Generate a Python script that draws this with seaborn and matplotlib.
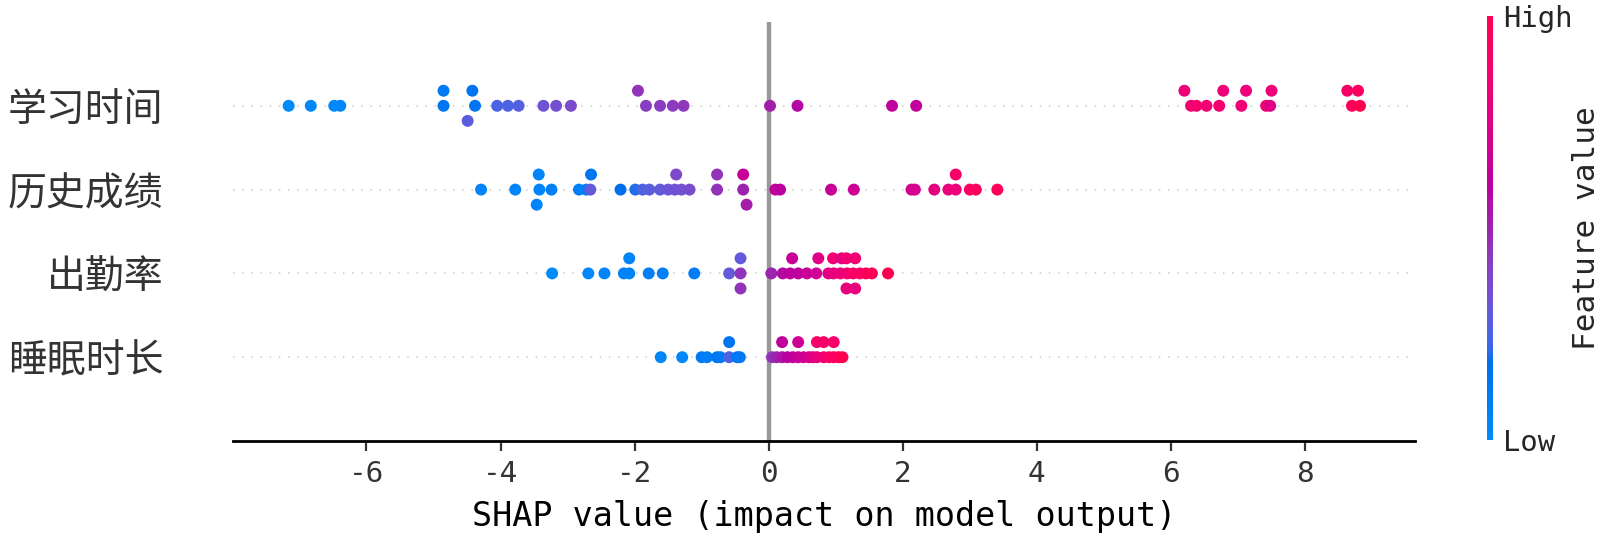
import numpy as np
import pandas as pd
import matplotlib
matplotlib.use("Agg")
import matplotlib.pyplot as plt
from matplotlib import font_manager
from matplotlib.colors import LinearSegmentedColormap
from matplotlib.cm import ScalarMappable
from matplotlib.colors import Normalize
import seaborn as sns

# ---------------- data ----------------
features = ["学习时间", "历史成绩", "出勤率", "睡眠时长"]

study_shap = [-7.16, -6.83, -6.48, -6.39, -4.85, -4.85, -4.38, -4.42, -4.49, -4.05,
              -3.89, -3.73, -3.36, -3.17, -2.95, -1.83, -1.95, -1.62, -1.43, -1.27,
              0.02, 0.43, 1.84, 2.20, 6.30, 6.20, 6.38, 6.53, 6.72, 6.78,
              7.05, 7.12, 7.42, 7.48, 7.50, 8.70, 8.63, 8.82, 8.79]
study_feat = [0.00, 0.02, 0.03, 0.03, 0.15, 0.12, 0.15, 0.15, 0.28, 0.25,
              0.25, 0.27, 0.33, 0.35, 0.37, 0.42, 0.45, 0.42, 0.43, 0.44,
              0.52, 0.58, 0.62, 0.62, 0.85, 0.82, 0.88, 0.85, 0.85, 0.82,
              0.85, 0.82, 0.85, 0.75, 0.82, 0.95, 0.90, 1.00, 0.92]

history_shap = [-4.29, -3.78, -3.42, -3.43, -3.46, -3.24, -2.83, -2.72, -2.66, -2.65,
                -2.21, -1.99, -1.88, -1.78, -1.62, -1.50, -1.40, -1.38, -1.30, -1.18,
                -0.77, -0.77, -0.38, -0.38, -0.33, 0.10, 0.17, 0.93, 1.27, 2.13,
                2.18, 2.47, 2.68, 2.79, 2.79, 3.00, 3.09, 3.41]
history_feat = [0.05, 0.05, 0.05, 0.05, 0.05, 0.08, 0.08, 0.10, 0.30, 0.15,
                0.18, 0.20, 0.25, 0.28, 0.30, 0.32, 0.33, 0.38, 0.34, 0.36,
                0.45, 0.45, 0.50, 0.65, 0.52, 0.62, 0.60, 0.65, 0.67, 0.70,
                0.70, 0.78, 0.80, 0.82, 0.90, 0.92, 0.93, 0.95]

attend_shap = [-3.23, -2.69, -2.45, -2.16, -2.08, -2.08, -1.79, -1.58, -1.11, -0.59,
               -0.42, -0.42, -0.42, 0.04, 0.21, 0.32, 0.35, 0.44, 0.57, 0.71,
               0.74, 0.89, 0.97, 0.96, 1.07, 1.09, 1.17, 1.16, 1.16, 1.26,
               1.29, 1.29, 1.36, 1.45, 1.54, 1.78]
attend_feat = [0.00, 0.02, 0.05, 0.05, 0.05, 0.05, 0.08, 0.08, 0.10, 0.30,
               0.45, 0.30, 0.45, 0.50, 0.58, 0.60, 0.65, 0.62, 0.65, 0.68,
               0.75, 0.75, 0.80, 0.85, 0.82, 0.78, 0.85, 0.85, 0.80, 0.90,
               0.85, 0.80, 0.90, 0.95, 0.97, 1.00]

sleep_shap = [-1.61, -1.29, -1.00, -0.92, -0.77, -0.72, -0.59, -0.59, -0.47, -0.43,
              0.05, 0.12, 0.20, 0.20, 0.28, 0.36, 0.44, 0.44, 0.52, 0.60,
              0.66, 0.72, 0.72, 0.82, 0.82, 0.90, 0.97, 0.97, 1.04, 1.10]
sleep_feat = [0.02, 0.02, 0.12, 0.10, 0.15, 0.12, 0.25, 0.15, 0.15, 0.12,
              0.45, 0.50, 0.55, 0.62, 0.60, 0.62, 0.65, 0.68, 0.68, 0.70,
              0.75, 0.80, 0.88, 0.85, 0.90, 0.90, 0.92, 0.88, 0.95, 1.00]

shap_rows = [study_shap, history_shap, attend_shap, sleep_shap]
feat_rows = [study_feat, history_feat, attend_feat, sleep_feat]


# ---------------- SHAP red_blue colormap (LCh interpolation) ----------------
def lch2rgb(l, c, h):
    a, b = c * np.cos(h), c * np.sin(h)
    fy = (l + 16.0) / 116.0
    fx = fy + a / 500.0
    fz = fy - b / 200.0

    def finv(t):
        return np.where(t > 6 / 29, t ** 3, 3 * (6 / 29) ** 2 * (t - 4 / 29))

    xyz = np.array([0.95047 * finv(fx), finv(fy), 1.08883 * finv(fz)])
    m = np.array([[3.2404542, -1.5371385, -0.4985314],
                  [-0.9692660, 1.8760108, 0.0415560],
                  [0.0556434, -0.2040259, 1.0572252]])
    rgb = m @ xyz
    rgb = np.where(rgb <= 0.0031308, 12.92 * rgb, 1.055 * np.clip(rgb, 0, None) ** (1 / 2.4) - 0.055)
    return np.clip(rgb, 0, 1)


blue_lch = [54.0, 70.0, 4.6588]
red_lch = [54.0, 90.0, 0.35470565 + 2 * np.pi]
l_mid = 40.0
nsteps = 100
l_vals = list(np.linspace(blue_lch[0], l_mid, nsteps // 2)) + list(np.linspace(l_mid, red_lch[0], nsteps // 2))
c_vals = np.linspace(blue_lch[1], red_lch[1], nsteps)
h_vals = np.linspace(blue_lch[2], red_lch[2], nsteps)
cols = [lch2rgb(l, c, h) for l, c, h in zip(l_vals, c_vals, h_vals)]
red_blue = LinearSegmentedColormap.from_list("red_blue", list(zip(np.linspace(0, 1, nsteps), cols)))


# ---------------- beeswarm offsets (shap algorithm) ----------------
def swarm_offsets(shaps, row_height=0.4, nbins=100):
    shaps = np.asarray(shaps, float)
    n = len(shaps)
    quant = np.round(nbins * (shaps - shaps.min()) / (shaps.max() - shaps.min() + 1e-8))
    inds = np.argsort(quant, kind="stable")
    layer, last_bin = 0, -1
    ys = np.zeros(n)
    for ind in inds:
        if quant[ind] != last_bin:
            layer = 0
        ys[ind] = np.ceil(layer / 2) * ((layer % 2) * 2 - 1)
        layer += 1
        last_bin = quant[ind]
    ys *= 0.9 * (row_height / np.max(ys + 1))
    return ys


frames = []
nfeat = len(features)
for i, (name, s, f) in enumerate(zip(features, shap_rows, feat_rows)):
    pos = nfeat - 1 - i
    frames.append(pd.DataFrame({"feature": name, "shap": s, "value": f,
                                "ypos": pos + swarm_offsets(s)}))
df = pd.concat(frames, ignore_index=True)

# ---------------- style / fonts ----------------
sns.set_theme(style="white")
available = {f.name for f in font_manager.fontManager.ttflist}
if "Noto Sans Mono CJK SC" in available:
    latin = "Noto Sans Mono CJK SC"
    lab_fs, tick_fs, cb_fs, cbt_fs = 14, 11.8, 12.9, 11.8
else:
    latin = "DejaVu Sans Mono"
    lab_fs, tick_fs, cb_fs, cbt_fs = 12, 10.6, 11.2, 10.4
plt.rcParams["font.family"] = [latin, "Noto Sans CJK SC", "DejaVu Sans"]
plt.rcParams["axes.unicode_minus"] = False

fig = plt.figure(figsize=(8, 2.72), dpi=200)
W, H = 1600, 544
ax = fig.add_axes([233 / W, 1 - 441 / H, (1415 - 233) / W, (441 - 22) / H])
cax = fig.add_axes([1487 / W, 1 - 440 / H, 6 / W, (440 - 16) / H])

for pos in range(nfeat):
    ax.axhline(y=pos, color="#cccccc", lw=0.55, dashes=(1, 5), zorder=-1)
ax.axvline(x=0, color="#999999", lw=1.6, zorder=-1)

sns.scatterplot(data=df, x="shap", y="ypos", hue="value", palette=red_blue,
                hue_norm=(0, 1), s=18.5, linewidth=0, legend=False, ax=ax, zorder=3)

ax.set_xlim(-7.99, 9.64)
ax.set_ylim(-1, nfeat)
ax.set_yticks(range(nfeat))
ax.set_yticklabels(features[::-1], fontsize=14, color="#333333", family=["Noto Sans CJK SC", "DejaVu Sans"])
ax.set_xticks([-6, -4, -2, 0, 2, 4, 6, 8])
ax.tick_params(axis="y", length=0, pad=25)
ax.tick_params(axis="x", labelsize=tick_fs, colors="#333333", length=3.5, width=0.8,
               direction="out", bottom=True)
for side in ["top", "right", "left"]:
    ax.spines[side].set_visible(False)
ax.spines["bottom"].set_color("black")
ax.spines["bottom"].set_linewidth(1.0)
ax.set_xlabel("SHAP value (impact on model output)", fontsize=lab_fs, color="black")
ax.set_ylabel("")

sm = ScalarMappable(norm=Normalize(0, 1), cmap=red_blue)
sm.set_array([0, 1])
cb = fig.colorbar(sm, cax=cax, ticks=[0, 1])
cb.set_ticklabels(["Low", "High"])
cb.set_label("Feature value", size=cb_fs, labelpad=0)
cb.ax.tick_params(labelsize=cbt_fs, length=0)
cb.outline.set_visible(False)

fig.savefig("out.png", dpi=200)
